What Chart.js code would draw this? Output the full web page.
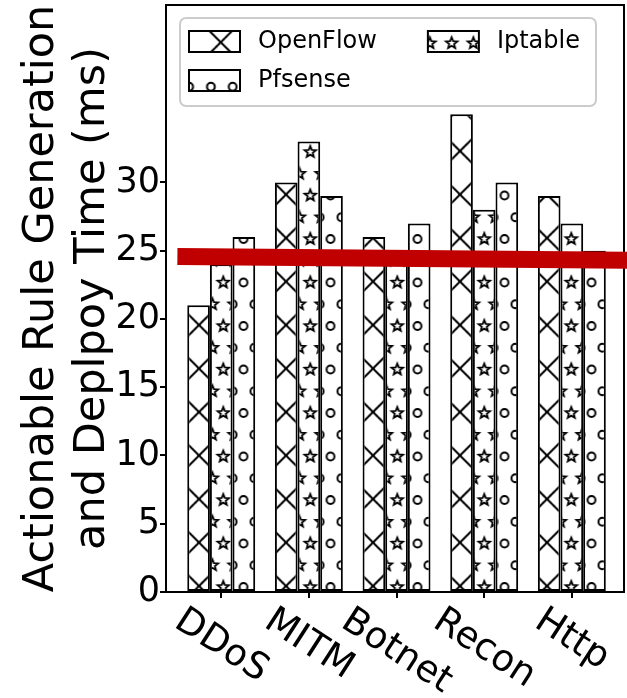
<!DOCTYPE html>
<html><head><meta charset="utf-8">
<script src="https://cdn.jsdelivr.net/npm/chart.js@4.4.1/dist/chart.umd.min.js"></script>
<style>html,body{margin:0;padding:0;background:#fff;}canvas{display:block}</style>
</head><body>
<canvas id="c" width="627" height="698"></canvas>
<script>
// ---- data ----
const categories = ['DDoS', 'MITM', 'Botnet', 'Recon', 'Http'];
const openflow = [21, 30, 26, 35, 29];
const iptable  = [24, 33, 24, 28, 27];
const pfsense  = [26, 29, 27, 30, 25];
const yTicks = [0, 5, 10, 15, 20, 25, 30];
const legendOrder = ['OpenFlow', 'Pfsense', 'Iptable'];
const yTitle = ['Actionable Rule Generation', 'and Deplpoy Time (ms)'];
const redLine = { from: [-0.5, 24.58], to: [4.7, 24.3] };

// ---- hatch patterns ----
const canvas = document.getElementById('c');
const ctx0 = canvas.getContext('2d');
const TILE = 87, P = 43.5, S = 21.75;
function tile(draw) {
  const c = document.createElement('canvas');
  c.width = c.height = TILE;
  const g = c.getContext('2d');
  g.fillStyle = '#fff'; g.fillRect(0, 0, TILE, TILE);
  g.strokeStyle = '#000';
  draw(g);
  return c;
}
function pat(c, ox, oy) {
  const p = ctx0.createPattern(c, 'repeat');
  p.setTransform(new DOMMatrix([1, 0, 0, 1, ox, oy]));
  return p;
}
// staggered grid: rows every S, columns every S, odd rows shifted by S/2
function lattice(fn) {
  for (let j = -1; j <= 4; j++) for (let i = -1; i <= 4; i++) {
    const sh = (((j % 2) + 2) % 2) * S / 2;
    fn(i * S + sh, j * S);
  }
}
const xTile = tile(g => {
  g.lineWidth = 2; g.beginPath();
  for (let k = -4; k <= 4; k++) {
    g.moveTo(k * P, 0); g.lineTo(k * P + TILE, TILE);
    g.moveTo(k * P, 0); g.lineTo(k * P - TILE, TILE);
  }
  g.stroke();
});
const oTile = tile(g => {
  g.lineWidth = 2;
  lattice((x, y) => { g.beginPath(); g.arc(x, y, 3.9, 0, Math.PI * 2); g.stroke(); });
});
const starTile = tile(g => {
  g.lineWidth = 1.8; g.lineJoin = 'miter';
  lattice((x, y) => {
    g.beginPath();
    for (let k = 0; k < 10; k++) {
      const r = k % 2 ? 2.6 : 6;
      const a = -Math.PI / 2 + k * Math.PI / 5;
      const px = x + r * Math.cos(a), py = y + r * Math.sin(a);
      if (k) g.lineTo(px, py); else g.moveTo(px, py);
    }
    g.closePath(); g.stroke();
  });
});
const pX = pat(xTile, 25, 20.5);
const pStar = pat(starTile, 49.3, 65);
const pO = pat(oTile, 69.5, 65);

const FONT = '"DejaVu Sans", sans-serif';

const decor = {
  id: 'decor',
  afterDraw(chart) {
    const { ctx, chartArea: a, scales: { x, y } } = chart;
    ctx.save();
    // top & right spines
    ctx.strokeStyle = '#000'; ctx.lineWidth = 2;
    ctx.beginPath();
    ctx.moveTo(a.left, a.top); ctx.lineTo(a.right, a.top); ctx.lineTo(a.right, a.bottom);
    ctx.stroke();

    // rotated x tick labels (centered, like matplotlib)
    const fs = 37;
    ctx.font = fs + 'px ' + FONT; ctx.fillStyle = '#000';
    ctx.textAlign = 'center'; ctx.textBaseline = 'middle';
    const th = 33 * Math.PI / 180, h = fs * 1.164;
    categories.forEach((lab, i) => {
      const w = ctx.measureText(lab).width;
      const H = w * Math.sin(th) + h * Math.cos(th);
      const cx = x.getPixelForValue(i), cy = a.bottom + 8 + H / 2;
      ctx.save(); ctx.translate(cx, cy); ctx.rotate(th); ctx.fillText(lab, 0, 0); ctx.restore();
    });

    // legend (2 rows, column-major)
    const ds = {};
    chart.data.datasets.forEach(d => ds[d.label] = d);
    ctx.font = '24px ' + FONT;
    const rows = 2, patchW = 51, patchH = 21, gap = 18, colSpace = 51, padL = 9, padR = 16;
    const boxL = a.left + 14, boxT = a.top + 13, boxH = 88;
    const rowY = [boxT + 23.5, boxT + 62.5];
    const cols = [];
    for (let c = 0; c * rows < legendOrder.length; c++) cols.push(legendOrder.slice(c * rows, c * rows + rows));
    let w = padL;
    cols.forEach((col, ci) => {
      const mw = Math.max(...col.map(t => ctx.measureText(t).width));
      w += patchW + gap + mw + (ci < cols.length - 1 ? colSpace : 0);
    });
    w += padR;
    ctx.fillStyle = 'rgba(255,255,255,0.8)';
    ctx.strokeStyle = '#cccccc'; ctx.lineWidth = 2;
    ctx.beginPath(); ctx.roundRect(boxL, boxT, w, boxH, 6); ctx.fill(); ctx.stroke();
    let cx = boxL + padL;
    cols.forEach(col => {
      const mw = Math.max(...col.map(t => ctx.measureText(t).width));
      col.forEach((lab, r) => {
        const d = ds[lab];
        const py = rowY[r] - patchH / 2;
        ctx.fillStyle = d.backgroundColor; ctx.fillRect(cx, py, patchW, patchH);
        ctx.strokeStyle = '#000'; ctx.lineWidth = 2; ctx.strokeRect(cx, py, patchW, patchH);
        ctx.fillStyle = '#000'; ctx.textAlign = 'left'; ctx.textBaseline = 'middle';
        ctx.fillText(lab, cx + patchW + gap, rowY[r]);
      });
      cx += patchW + gap + mw + colSpace;
    });

    // red annotation line
    ctx.strokeStyle = '#c00000'; ctx.lineWidth = 17; ctx.lineCap = 'butt';
    ctx.beginPath();
    ctx.moveTo(x.getPixelForValue(redLine.from[0]), y.getPixelForValue(redLine.from[1]));
    ctx.lineTo(x.getPixelForValue(redLine.to[0]), y.getPixelForValue(redLine.to[1]));
    ctx.stroke();
    ctx.restore();
  }
};

const tickGrid = { display: true, drawOnChartArea: false, drawTicks: true, tickLength: 6, color: '#000', lineWidth: 2, offset: false };
const border = { display: true, color: '#000', width: 2 };

new Chart(ctx0, {
  type: 'bar',
  data: {
    datasets: [
      { label: 'OpenFlow', data: openflow.map((v, i) => ({ x: i, y: v })), backgroundColor: pX },
      { label: 'Iptable',  data: iptable.map((v, i) => ({ x: i, y: v })),  backgroundColor: pStar },
      { label: 'Pfsense',  data: pfsense.map((v, i) => ({ x: i, y: v })),  backgroundColor: pO }
    ]
  },
  options: {
    responsive: false, animation: false, devicePixelRatio: 1,
    layout: { padding: { top: 5, right: 3, left: 0, bottom: 0 } },
    plugins: { legend: { display: false }, tooltip: { enabled: false } },
    datasets: { bar: { categoryPercentage: 0.775, barPercentage: 1, borderColor: '#000', borderWidth: 2, borderSkipped: false } },
    scales: {
      x: {
        type: 'linear', min: -0.63, max: 4.595, offset: false,
        grid: tickGrid, border: border,
        ticks: { display: false },
        afterBuildTicks: s => { s.ticks = categories.map((_, i) => ({ value: i })); },
        afterFit: s => { s.height = 106; s.paddingLeft = 0; s.paddingRight = 0; }
      },
      y: {
        min: 0, max: 43,
        grid: tickGrid, border: border,
        ticks: { font: { family: 'DejaVu Sans', size: 35 }, color: '#000', padding: 0 },
        afterBuildTicks: s => { s.ticks = yTicks.map(v => ({ value: v })); },
        afterFit: s => { s.width = 166; s.paddingTop = 0; s.paddingBottom = 0; },
        title: { display: true, text: yTitle, color: '#000', font: { family: 'DejaVu Sans', size: 43, lineHeight: 1.17 }, padding: { top: 17, bottom: 0 } }
      }
    }
  },
  plugins: [decor]
});
</script>
</body></html>
